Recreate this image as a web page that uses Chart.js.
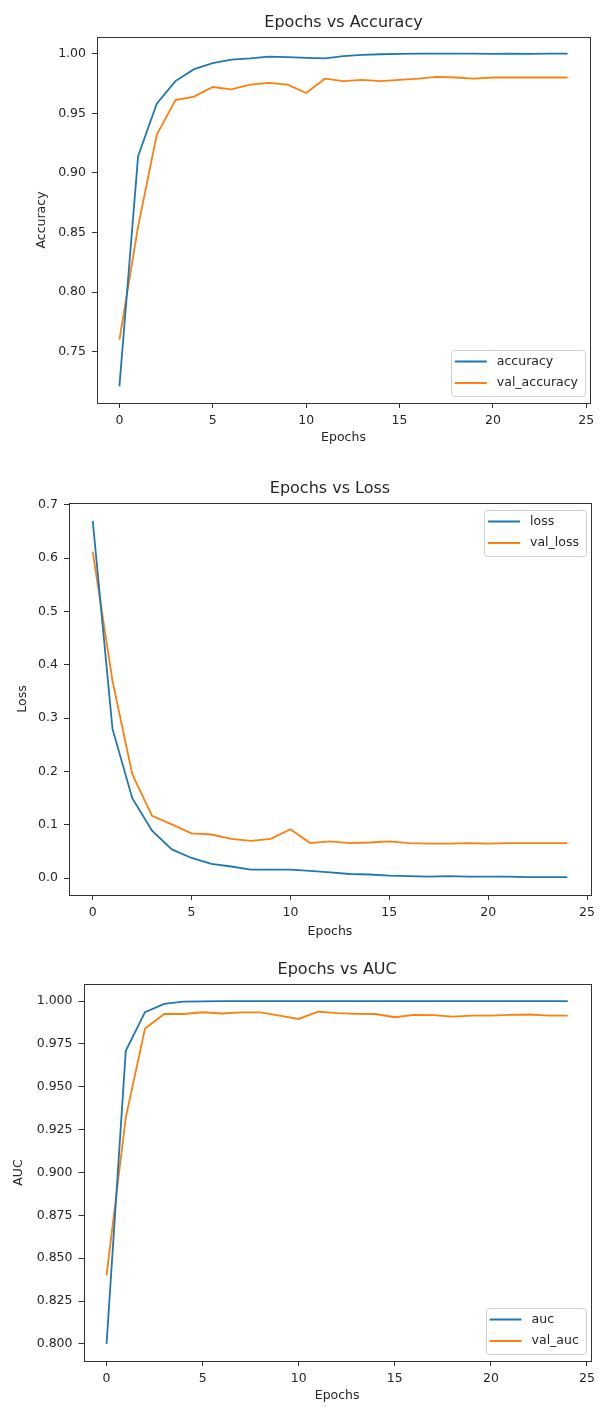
<!DOCTYPE html>
<html>
<head>
<meta charset="utf-8">
<title>Training history</title>
<script src="https://cdn.jsdelivr.net/npm/chart.js@4.4.1/dist/chart.umd.min.js"></script>
<style>
    html, body { margin: 0; padding: 0; background: #fff; }
    body { position: relative; width: 600px; height: 1407px; overflow: hidden; }
    canvas { position: absolute; left: 0; }
</style>
</head>
<body>
<canvas id="accuracyChart" width="600" height="460" style="top: 0px;"></canvas>
<canvas id="lossChart" width="600" height="480" style="top: 465px;"></canvas>
<canvas id="aucChart" width="600" height="462" style="top: 945px;"></canvas>
<script>
var epochs = [0, 1, 2, 3, 4, 5, 6, 7, 8, 9, 10, 11, 12, 13, 14, 15, 16, 17, 18, 19, 20, 21, 22, 23, 24];

var accuracy = [0.721, 0.914, 0.958, 0.977, 0.987, 0.992, 0.995, 0.996, 0.9975, 0.997, 0.9965, 0.996,
    0.998, 0.999, 0.9995, 0.9998, 1.0, 1.0, 1.0, 1.0, 0.9998, 1.0, 0.9998, 1.0, 1.0];
var valAccuracy = [0.760, 0.855, 0.932, 0.961, 0.964, 0.972, 0.970, 0.974, 0.9755, 0.974, 0.967, 0.979,
    0.977, 0.978, 0.977, 0.978, 0.979, 0.9805, 0.980, 0.979, 0.980, 0.980, 0.980, 0.980, 0.980];

var loss = [0.670, 0.280, 0.150, 0.089, 0.054, 0.038, 0.027, 0.022, 0.016, 0.016, 0.016, 0.014,
    0.011, 0.008, 0.007, 0.005, 0.004, 0.003, 0.004, 0.003, 0.003, 0.003, 0.002, 0.002, 0.002];
var valLoss = [0.612, 0.370, 0.195, 0.117, 0.101, 0.084, 0.082, 0.074, 0.070, 0.074, 0.092, 0.066,
    0.069, 0.066, 0.067, 0.069, 0.066, 0.065, 0.065, 0.066, 0.065, 0.066, 0.066, 0.066, 0.066];

var auc = [0.800, 0.971, 0.9936, 0.9984, 0.9997, 0.9999, 1.0, 1.0, 1.0, 1.0, 1.0, 1.0,
    1.0, 1.0, 1.0, 1.0, 1.0, 1.0, 1.0, 1.0, 1.0, 1.0, 1.0, 1.0, 1.0];
var valAuc = [0.840, 0.932, 0.984, 0.9925, 0.9925, 0.9935, 0.9928, 0.9935, 0.9935, 0.9915, 0.9896, 0.9939,
    0.993, 0.9926, 0.9925, 0.9906, 0.992, 0.9918, 0.991, 0.9915, 0.9915, 0.992, 0.9922, 0.9915, 0.9915];

var epochTicks = [0, 5, 10, 15, 20, 25];
var accuracyTicks = [0.75, 0.80, 0.85, 0.90, 0.95, 1.00];
var lossTicks = [0.0, 0.1, 0.2, 0.3, 0.4, 0.5, 0.6, 0.7];
var aucTicks = [0.800, 0.825, 0.850, 0.875, 0.900, 0.925, 0.950, 0.975, 1.000];

(function () {
    'use strict';

    var FONT_FAMILY = '"DejaVu Sans", sans-serif',
        FONT_SIZE = 12.5,
        TITLE_SIZE = 16,
        TEXT_COLOR = '#262626',
        SPINE_COLOR = '#333333',
        BLUE = '#1f77b4',
        ORANGE = '#ff7f0e',

        // same autoscale as matplotlib: 5% margin round the data
        padRange = function (values) {
            var min = Math.min.apply(null, values),
                max = Math.max.apply(null, values),
                margin = (max - min) * 0.05;

            return { min: min - margin, max: max + margin };
        },

        toPoints = function (values) {
            return epochs.map(function (epoch, index) {
                return { x: epoch, y: values[index] };
            });
        },

        boxPath = function (ctx, x, y, w, h, r) {
            ctx.beginPath();
            ctx.moveTo(x + r, y);
            ctx.lineTo(x + w - r, y);
            ctx.arcTo(x + w, y, x + w, y + r, r);
            ctx.lineTo(x + w, y + h - r);
            ctx.arcTo(x + w, y + h, x + w - r, y + h, r);
            ctx.lineTo(x + r, y + h);
            ctx.arcTo(x, y + h, x, y + h - r, r);
            ctx.lineTo(x, y + r);
            ctx.arcTo(x, y, x + r, y, r);
            ctx.closePath();
        },

        drawLegend = function (chart, location) {
            var ctx = chart.ctx,
                area = chart.chartArea,
                datasets = chart.data.datasets,
                rowHeight = 21.5,
                textWidth, boxW, boxH, boxX, boxY;

            ctx.font = FONT_SIZE + 'px ' + FONT_FAMILY;
            textWidth = Math.max.apply(null, datasets.map(function (d) {
                return ctx.measureText(d.label).width;
            }));

            boxW = 4 + 32 + 10 + textWidth + 7;
            boxH = 11.5 + rowHeight * (datasets.length - 1) + 13;
            boxX = area.right - 5 - boxW;
            boxY = location === 'upper right' ? area.top + 7 : area.bottom - 7 - boxH;

            boxPath(ctx, Math.round(boxX) + 0.5, Math.round(boxY) + 0.5, Math.round(boxW), Math.round(boxH), 3);
            ctx.fillStyle = 'rgba(255, 255, 255, 0.8)';
            ctx.fill();
            ctx.strokeStyle = '#d0d0d0';
            ctx.lineWidth = 1;
            ctx.stroke();

            datasets.forEach(function (d, index) {
                var rowY = boxY + 11.5 + rowHeight * index;

                ctx.beginPath();
                ctx.moveTo(boxX + 4, rowY);
                ctx.lineTo(boxX + 36, rowY);
                ctx.strokeStyle = d.borderColor;
                ctx.lineWidth = 1.8;
                ctx.stroke();

                ctx.fillStyle = TEXT_COLOR;
                ctx.textAlign = 'left';
                ctx.textBaseline = 'middle';
                ctx.fillText(d.label, boxX + 46, rowY);
            });
        },

        // full axes box, a title over it and a legend inside it
        axesDecor = {
            id: 'axesDecor',
            afterDraw: function (chart, args, opts) {
                var ctx = chart.ctx,
                    area = chart.chartArea;

                ctx.save();

                ctx.strokeStyle = SPINE_COLOR;
                ctx.lineWidth = 1;
                ctx.strokeRect(Math.round(area.left) + 0.5, Math.round(area.top) + 0.5,
                    Math.round(area.right - area.left), Math.round(area.bottom - area.top));

                ctx.fillStyle = TEXT_COLOR;
                ctx.font = TITLE_SIZE + 'px ' + FONT_FAMILY;
                ctx.textAlign = 'center';
                ctx.textBaseline = 'middle';
                ctx.fillText(opts.title, (area.left + area.right) / 2, area.top - 14);

                drawLegend(chart, opts.legendAt);

                ctx.restore();
            }
        },

        makeAxis = function (settings) {
            return {
                type: 'linear',
                min: settings.range.min,
                max: settings.range.max,
                afterFit: settings.fit,
                afterBuildTicks: function (scale) {
                    scale.ticks = settings.ticks.map(function (v) { return { value: v }; });
                },
                grid: { drawOnChartArea: false, drawTicks: true, tickLength: 5, color: SPINE_COLOR },
                border: { display: false },
                ticks: {
                    autoSkip: false,
                    maxRotation: 0,
                    padding: settings.tickPadding,
                    color: TEXT_COLOR,
                    font: { family: FONT_FAMILY, size: FONT_SIZE },
                    callback: function (value) {
                        return Number(value).toFixed(settings.decimals);
                    }
                },
                title: {
                    display: true,
                    text: settings.label,
                    color: TEXT_COLOR,
                    font: { family: FONT_FAMILY, size: FONT_SIZE },
                    padding: settings.titlePadding
                }
            };
        },

        initChart = function (spec) {
            return new Chart(document.getElementById(spec.canvasId), {
                type: 'line',
                data: {
                    datasets: [
                        { label: spec.names[0], data: toPoints(spec.train), borderColor: BLUE },
                        { label: spec.names[1], data: toPoints(spec.validation), borderColor: ORANGE }
                    ]
                },
                options: {
                    responsive: false,
                    animation: false,
                    events: [],
                    layout: { padding: spec.padding },
                    elements: {
                        point: { radius: 0 },
                        line: { tension: 0, borderWidth: 1.8, fill: false }
                    },
                    plugins: {
                        legend: { display: false },
                        tooltip: { enabled: false },
                        axesDecor: { title: spec.title, legendAt: spec.legendAt }
                    },
                    scales: {
                        x: makeAxis({
                            range: padRange(epochs),
                            ticks: epochTicks,
                            decimals: 0,
                            label: 'Epochs',
                            tickPadding: 5,
                            titlePadding: { top: 0, bottom: 4 },
                            fit: function (scale) { scale.height = spec.xAxisHeight; }
                        }),
                        y: makeAxis({
                            range: padRange(spec.train.concat(spec.validation)),
                            ticks: spec.yTicks,
                            decimals: spec.decimals,
                            label: spec.yLabel,
                            tickPadding: 6,
                            titlePadding: { top: spec.yTitleOffset, bottom: 0 },
                            fit: function (scale) { scale.width = spec.yAxisWidth; }
                        })
                    }
                },
                plugins: [axesDecor]
            });
        };

    initChart({
        canvasId: 'accuracyChart',
        title: 'Epochs vs Accuracy',
        yLabel: 'Accuracy',
        names: ['accuracy', 'val_accuracy'],
        train: accuracy,
        validation: valAccuracy,
        yTicks: accuracyTicks,
        decimals: 2,
        legendAt: 'lower right',
        padding: { top: 37, right: 10, bottom: 11, left: 0 },
        xAxisHeight: 46,
        yAxisWidth: 97,
        yTitleOffset: 34.5
    });

    initChart({
        canvasId: 'lossChart',
        title: 'Epochs vs Loss',
        yLabel: 'Loss',
        names: ['loss', 'val_loss'],
        train: loss,
        validation: valLoss,
        yTicks: lossTicks,
        decimals: 1,
        legendAt: 'upper right',
        padding: { top: 38, right: 3, bottom: 2, left: 0 },
        xAxisHeight: 48,
        yAxisWidth: 69,
        yTitleOffset: 15.5
    });

    initChart({
        canvasId: 'aucChart',
        title: 'Epochs vs AUC',
        yLabel: 'AUC',
        names: ['auc', 'val_auc'],
        train: auc,
        validation: valAuc,
        yTicks: aucTicks,
        decimals: 3,
        legendAt: 'lower right',
        padding: { top: 39, right: 9, bottom: 0, left: 0 },
        xAxisHeight: 46,
        yAxisWidth: 83.5,
        yTitleOffset: 11.5
    });
}());
</script>
</body>
</html>
